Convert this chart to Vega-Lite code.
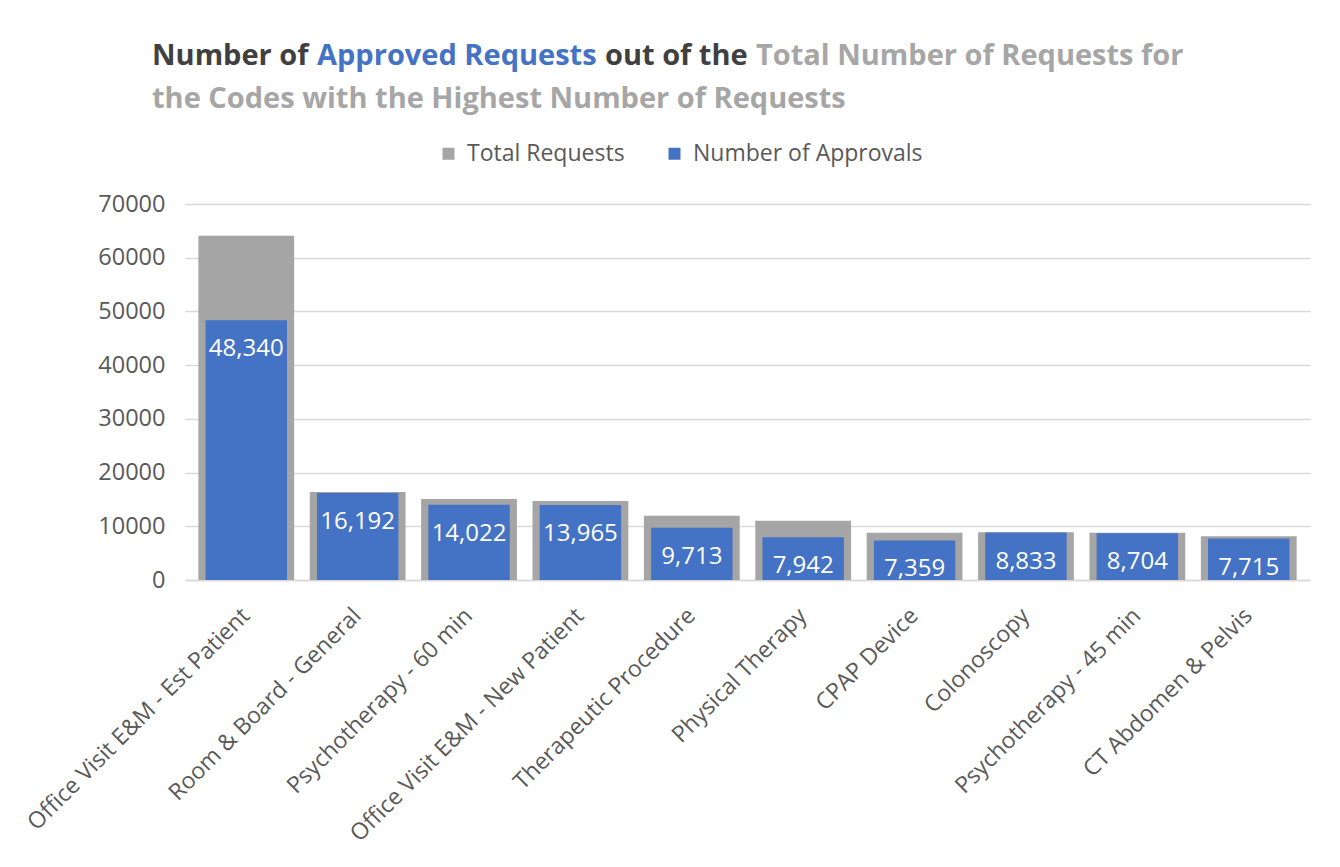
{
  "$schema": "https://vega.github.io/schema/vega-lite/v6.json",
  "background": "white",
  "padding": {"left": 23, "top": 42, "right": 20, "bottom": 5},
  "config": {
    "font": "Open Sans",
    "view": {"stroke": null},
    "title": {"fontSize": 29, "fontWeight": "bold", "anchor": "start", "offset": 0}
  },
  "bounds": "flush",
  "spacing": 129,
  "resolve": {"legend": {"color": "independent"}},
  "vconcat": [
    {
      "bounds": "full",
      "spacing": 8,
      "hconcat": [
        {"data": {"values": []}, "mark": "point", "width": 1, "height": 1,
         "title": {"text": "Number of", "color": "#404040", "dx": -33}},
        {"data": {"values": []}, "mark": "point", "width": 1, "height": 1,
         "title": {"text": "Approved Requests", "color": "#4472C4"}},
        {"data": {"values": []}, "mark": "point", "width": 1, "height": 1,
         "title": {"text": "out of the", "color": "#404040"}},
        {"data": {"values": []}, "mark": "point", "width": 1, "height": 1,
         "title": {"text": "Total Number of Requests for", "color": "#A6A6A6"}}
      ]
    },
    {
      "width": 1125,
      "height": 376,
      "title": {"text": "the Codes with the Highest Number of Requests", "color": "#A6A6A6", "frame": "group", "dx": -33, "offset": 28},
      "data": {"values": [
        {"code": "Office Visit E&M - Est Patient", "series": "Total Requests", "value": 64100},
        {"code": "Room & Board - General", "series": "Total Requests", "value": 16400},
        {"code": "Psychotherapy - 60 min", "series": "Total Requests", "value": 15100},
        {"code": "Office Visit E&M - New Patient", "series": "Total Requests", "value": 14700},
        {"code": "Therapeutic Procedure", "series": "Total Requests", "value": 11950},
        {"code": "Physical Therapy", "series": "Total Requests", "value": 11050},
        {"code": "CPAP Device", "series": "Total Requests", "value": 8800},
        {"code": "Colonoscopy", "series": "Total Requests", "value": 8880},
        {"code": "Psychotherapy - 45 min", "series": "Total Requests", "value": 8780},
        {"code": "CT Abdomen & Pelvis", "series": "Total Requests", "value": 8150},
        {"code": "Office Visit E&M - Est Patient", "series": "Number of Approvals", "value": 48340},
        {"code": "Room & Board - General", "series": "Number of Approvals", "value": 16192},
        {"code": "Psychotherapy - 60 min", "series": "Number of Approvals", "value": 14022},
        {"code": "Office Visit E&M - New Patient", "series": "Number of Approvals", "value": 13965},
        {"code": "Therapeutic Procedure", "series": "Number of Approvals", "value": 9713},
        {"code": "Physical Therapy", "series": "Number of Approvals", "value": 7942},
        {"code": "CPAP Device", "series": "Number of Approvals", "value": 7359},
        {"code": "Colonoscopy", "series": "Number of Approvals", "value": 8833},
        {"code": "Psychotherapy - 45 min", "series": "Number of Approvals", "value": 8704},
        {"code": "CT Abdomen & Pelvis", "series": "Number of Approvals", "value": 7715}
      ]},
      "encoding": {
        "x": {
          "field": "code", "type": "nominal", "sort": null,
          "scale": {"paddingInner": 0.14, "paddingOuter": 0.12},
          "axis": {"title": null, "labelAngle": -45, "labelFontSize": 23, "labelColor": "#595959", "ticks": false, "domainColor": "#D9D9D9", "domainWidth": 1.5, "labelPadding": 24, "labelOffset": -8, "labelLimit": 0}
        },
        "y": {
          "field": "value", "type": "quantitative",
          "scale": {"domain": [0, 70000]},
          "axis": {"title": null, "values": [0, 10000, 20000, 30000, 40000, 50000, 60000, 70000], "format": "d", "labelFontSize": 23.5, "labelColor": "#595959", "gridColor": "#D9D9D9", "gridWidth": 1.5, "domain": false, "ticks": false, "labelPadding": 20}
        }
      },
      "layer": [
        {
          "transform": [{"filter": "datum.series === 'Total Requests'"}],
          "mark": {"type": "bar"},
          "encoding": {
            "color": {
              "field": "series", "type": "nominal",
              "scale": {"domain": ["Total Requests", "Number of Approvals"], "range": ["#A5A5A5", "#4472C4"]},
              "legend": {"title": null, "orient": "none", "legendX": 252, "legendY": -62, "direction": "horizontal", "symbolType": "square", "symbolSize": 144, "symbolStrokeWidth": 0, "labelFontSize": 23, "labelColor": "#595959", "labelOffset": 7, "columnPadding": 38, "labelLimit": 0}
            }
          }
        },
        {
          "transform": [{"filter": "datum.series === 'Number of Approvals'"}],
          "mark": {"type": "bar", "width": {"band": 0.85}},
          "encoding": {"color": {"field": "series", "type": "nominal"}}
        },
        {
          "transform": [{"filter": "datum.series === 'Number of Approvals'"}],
          "mark": {"type": "text", "color": "white", "fontSize": 24, "baseline": "middle", "dy": 29},
          "encoding": {"text": {"field": "value", "type": "quantitative", "format": ","}}
        }
      ]
    }
  ]
}
